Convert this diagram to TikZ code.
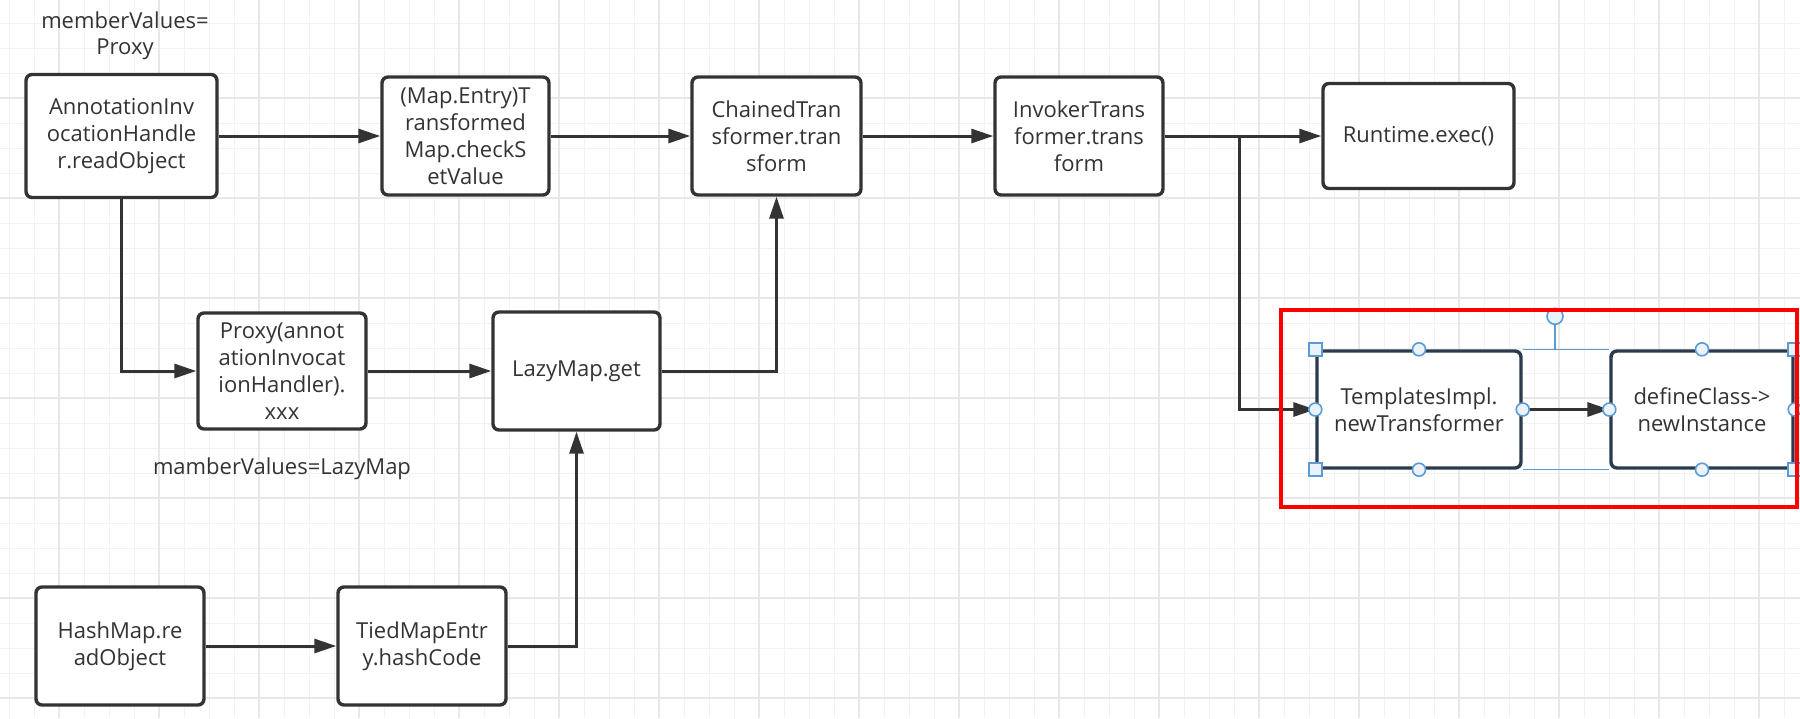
\documentclass[tikz,border=0pt]{standalone}
\usepackage{fontspec}
\setmainfont{Open Sans}
\usepackage{tikz}
\usetikzlibrary{calc,arrows.meta}

\definecolor{gridminor}{HTML}{F2F2F2}
\definecolor{gridmajor}{HTML}{E8E8E8}
\definecolor{ink}{HTML}{333333}
\definecolor{selink}{HTML}{2B3A4E}
\definecolor{selblue}{HTML}{5B9BD5}
\definecolor{selfill}{HTML}{EAF2FB}

\tikzset{
  blk/.style={draw=ink, fill=white, line width=1.7pt, rounded corners=3pt,
    align=center, inner sep=0pt, text=ink,
    font=\fontsize{11}{13.5}\selectfont},
  boxsz/.style 2 args={minimum width=#1*0.5pt, minimum height=#2*0.5pt},
  lbl/.style={align=center, inner sep=0pt, text=ink,
    font=\fontsize{11}{13}\selectfont},
  link/.style={draw=ink, line width=1.5pt, -{Triangle[length=11pt,width=7pt]}},
  hsq/.style={draw=selblue, fill=selfill, line width=0.8pt, inner sep=0pt,
    minimum size=6.5pt},
  hcirc/.style={draw=selblue, fill=selfill, line width=0.8pt, circle,
    inner sep=0pt, minimum size=6.5pt}
}

\begin{document}
\begin{tikzpicture}[x=0.5pt, y=-0.5pt]
    \useasboundingbox (0,0) rectangle (1800,718);
    \fill[white] (0,0) rectangle (1800,718);

    % 背景网格
    \foreach \x in {9,34,...,1800}
      \draw[gridminor, line width=0.5pt] (\x,0) -- (\x,718);
    \foreach \y in {23,48,...,718}
      \draw[gridminor, line width=0.5pt] (0,\y) -- (1800,\y);
    \foreach \x in {59,159,...,1800}
      \draw[gridmajor, line width=0.6pt] (\x,0) -- (\x,718);
    \foreach \y in {98,198,...,718}
      \draw[gridmajor, line width=0.6pt] (0,\y) -- (1800,\y);

    % 第一行
    \node[blk, boxsz={191}{123}] (aih) at (121.5,136)
      {AnnotationInv\\ocationHandle\\r.readObject};
    \node[blk, boxsz={167}{118}] (chk) at (465.5,136)
      {(Map.Entry)T\\ransformed\\Map.checkS\\etValue};
    \node[blk, boxsz={169}{118}] (chain) at (776.5,136)
      {ChainedTran\\sformer.tran\\sform};
    \node[blk, boxsz={168}{118}] (inv) at (1079,136)
      {InvokerTrans\\former.trans\\form};
    \node[blk, boxsz={191}{105}] (rt) at (1418.5,136) {Runtime.exec()};

    % 第二行
    \node[blk, boxsz={168}{116}] (prx) at (282,371)
      {Proxy(annot\\ationInvocat\\ionHandler).\\xxx};
    \node[blk, boxsz={167}{118}] (lazy) at (576.5,371) {LazyMap.get};

    % 第三行
    \node[blk, boxsz={168}{118}] (hash) at (120,646) {HashMap.re\\adObject};
    \node[blk, boxsz={168}{118}] (tied) at (422,646)
      {TiedMapEntr\\y.hashCode};

    % 选中的两个框
    \node[blk, draw=selink, boxsz={204}{117}] (tpl) at (1419,409.5)
      {TemplatesImpl.\\newTransformer};
    \node[blk, draw=selink, boxsz={182}{117}] (dcl) at (1702,409.5)
      {defineClass->\\newInstance};

    % 说明文字
    \node[lbl] (mv1) at (125,36) {memberValues=\\Proxy};
    \node[lbl] (mv2) at (282,469) {mamberValues=LazyMap};

    % 连线
    \draw[link] (aih) -- (chk);
    \draw[link] (chk) -- (chain);
    \draw[link] (chain) -- (inv);
    \draw[link] (inv) -- (rt);
    \draw[link] (aih.south) |- (prx.west);
    \draw[link] (prx) -- (lazy);
    \draw[link] (lazy.east) -| (chain.south);
    \draw[link] (hash) -- (tied);
    \draw[link] (tied.east) -| (lazy.south);
    \coordinate (sp) at (1239,136);
    \draw[link] (sp) |- (tpl.west);
    \draw[link] (tpl) -- (dcl);

    % 选择框与控制点
    \draw[selblue, line width=0.7pt] (tpl.north east) -- (dcl.north west);
    \draw[selblue, line width=0.7pt] (tpl.south east) -- (dcl.south west);
    \coordinate (top) at ($(tpl.north west)!0.5!(dcl.north east)$);
    \node[hcirc, minimum size=8pt] (rot) at ($(top)+(0,-33)$) {};
    \draw[selblue, line width=0.7pt] (rot) -- (top);
    \foreach \p [count=\i] in {tpl.north west, tpl.south west,
        dcl.north east, dcl.south east}
      \node[hsq] (sq\i) at (\p) {};
    \foreach \p [count=\i] in {tpl.north, tpl.south, tpl.west, tpl.east,
        dcl.north, dcl.south, dcl.west, dcl.east}
      \node[hcirc] (hc\i) at (\p) {};

    % 红色标注框
    \draw[red, line width=2pt] (1281,310) rectangle (1797,507);
\end{tikzpicture}
\end{document}
